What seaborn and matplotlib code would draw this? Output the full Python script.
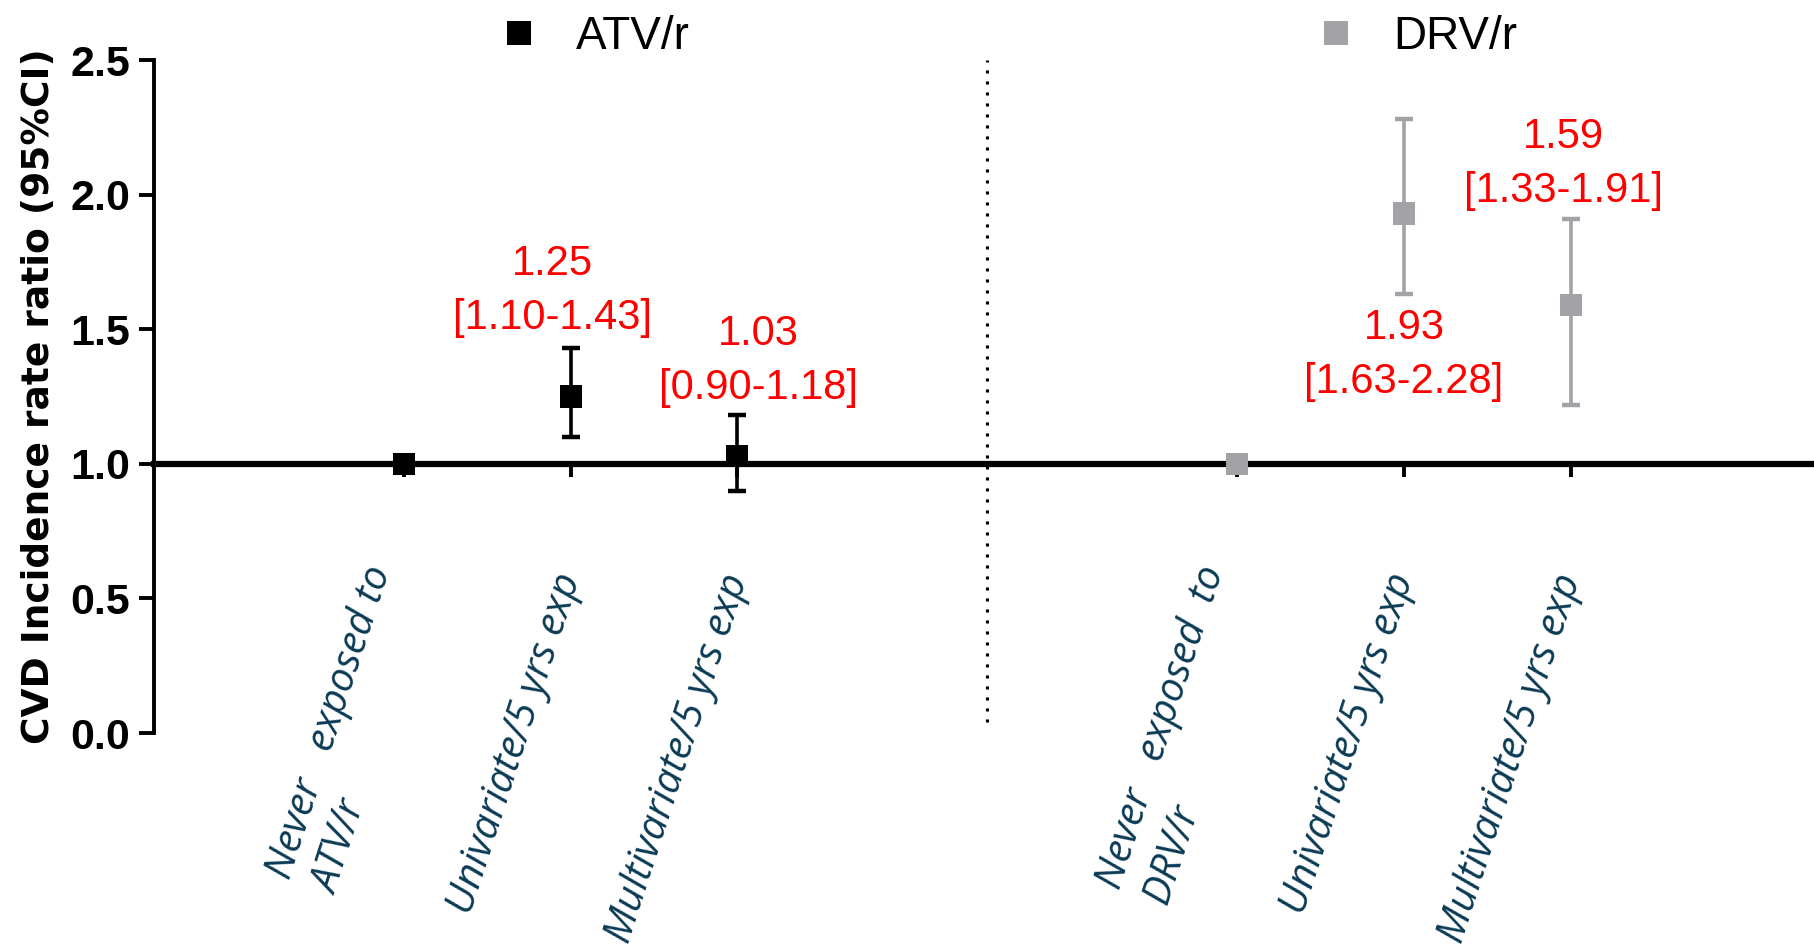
import matplotlib
matplotlib.use("Agg")
import matplotlib.pyplot as plt
import seaborn as sns
import pandas as pd

# data
groups = ["ATV/r", "ATV/r", "ATV/r", "DRV/r", "DRV/r", "DRV/r"]
categories = ["Never   exposed to\nATV/r", "Univariate/5 yrs exp", "Multivariate/5 yrs exp",
              "Never   exposed  to\nDRV/r", "Univariate/5 yrs exp", "Multivariate/5 yrs exp"]
rate_ratio = [1.00, 1.25, 1.03, 1.00, 1.93, 1.59]
ci_low = [1.00, 1.10, 0.90, 1.00, 1.63, 1.22]
ci_high = [1.00, 1.43, 1.18, 1.00, 2.28, 1.91]
annot = ["", "1.25\n[1.10-1.43]", "1.03\n[0.90-1.18]",
         "", "1.93\n[1.63-2.28]", "1.59\n[1.33-1.91]"]
yticks = [0.0, 0.5, 1.0, 1.5, 2.0, 2.5]

# category slots: groups separated by a gap of two empty slots
group_order = ["ATV/r", "DRV/r"]
pos = []
for g in group_order:
    n = groups.count(g)
    start = group_order.index(g) * (n + 2)
    pos += list(range(start, start + n))

df = pd.DataFrame({"pos": pos, "group": groups, "rr": rate_ratio,
                   "lo": ci_low, "hi": ci_high, "annot": annot})

palette = {"ATV/r": "#000000", "DRV/r": "#a3a3a7"}
# label placement: (x offset pt, y offset pt, side)
annot_style = [None, (-13, 7, "above"), (15, 5, "above"),
               None, (0, -10, "below"), (-5, 6, "above")]

sns.set_style("ticks", {"axes.edgecolor": "black", "xtick.color": "black",
                        "ytick.color": "black", "text.color": "black",
                        "axes.labelcolor": "black"})
plt.rcParams["font.family"] = ["Liberation Sans", "DejaVu Sans"]

fig = plt.figure(figsize=(18.14, 9.44), dpi=100)
ax = fig.add_axes([0.0849, 0.2235, 0.9151, 0.7129])

for g, sub in df.groupby("group"):
    sub = sub[sub["hi"] > sub["lo"]]
    ax.errorbar(sub["pos"], sub["rr"],
                yerr=[sub["rr"] - sub["lo"], sub["hi"] - sub["rr"]],
                fmt="none", ecolor=palette[g], elinewidth=2.6,
                capsize=6.5, capthick=3.2, zorder=3)

sns.scatterplot(data=df, x="pos", y="rr", hue="group", palette=palette,
                marker="s", s=256, linewidth=0, zorder=5, clip_on=False, ax=ax)

for i, row in df.iterrows():
    st = annot_style[i]
    if st is None:
        continue
    dx, dy, side = st
    yy = row["hi"] if side == "above" else row["lo"]
    ax.annotate(row["annot"], xy=(row["pos"], yy), xytext=(dx, dy),
                textcoords="offset points", ha="center",
                va="bottom" if side == "above" else "top",
                color="#ff0000", fontsize=30, linespacing=1.45)

# dotted divider between drug groups
ax.axvline(3.5, ymin=0.016, ymax=1.0, color="black", lw=2.2,
           ls=(0, (1, 2.6)), zorder=1)

ax.set_xlim(-1.5, 8.46)
ax.set_ylim(0, 2.5)
sns.despine(ax=ax)
ax.spines["bottom"].set_position(("data", 1.0))
ax.spines["bottom"].set_linewidth(4.5)
ax.spines["bottom"].set_zorder(4)
ax.spines["left"].set_linewidth(2.8)

ax.set_yticks(yticks)
ax.set_yticklabels([f"{v:.1f}" for v in yticks], fontsize=31, fontweight="bold",
                   family=["Liberation Sans Narrow", "Liberation Sans"])
ax.tick_params(axis="y", length=11, width=2.8, pad=6)

ax.set_xticks(df["pos"])
ax.set_xticklabels(categories, rotation=72, ha="right", va="center",
                   rotation_mode="anchor", family="Open Sans", style="italic",
                   color="#0b3a55", fontsize=29, linespacing=1.3,
                   multialignment="left")
ax.tick_params(axis="x", length=9, width=2.8, pad=71)
ax.set_xlabel("")
ax.set_ylabel("CVD Incidence rate ratio (95%CI)", fontsize=27,
              fontweight="bold", family="DejaVu Sans", labelpad=10)

sns.move_legend(ax, "center", bbox_to_anchor=(0.555, 0.961),
                bbox_transform=fig.transFigure, ncol=2, title=None,
                frameon=False, fontsize=33, handlelength=1.0,
                handletextpad=0.75, columnspacing=13.6)
leg = ax.get_legend()
for h in leg.legend_handles:
    if hasattr(h, "set_markersize"):
        h.set_markersize(17)
    else:
        h.set_sizes([290])

fig.savefig("out.png", dpi=100)
